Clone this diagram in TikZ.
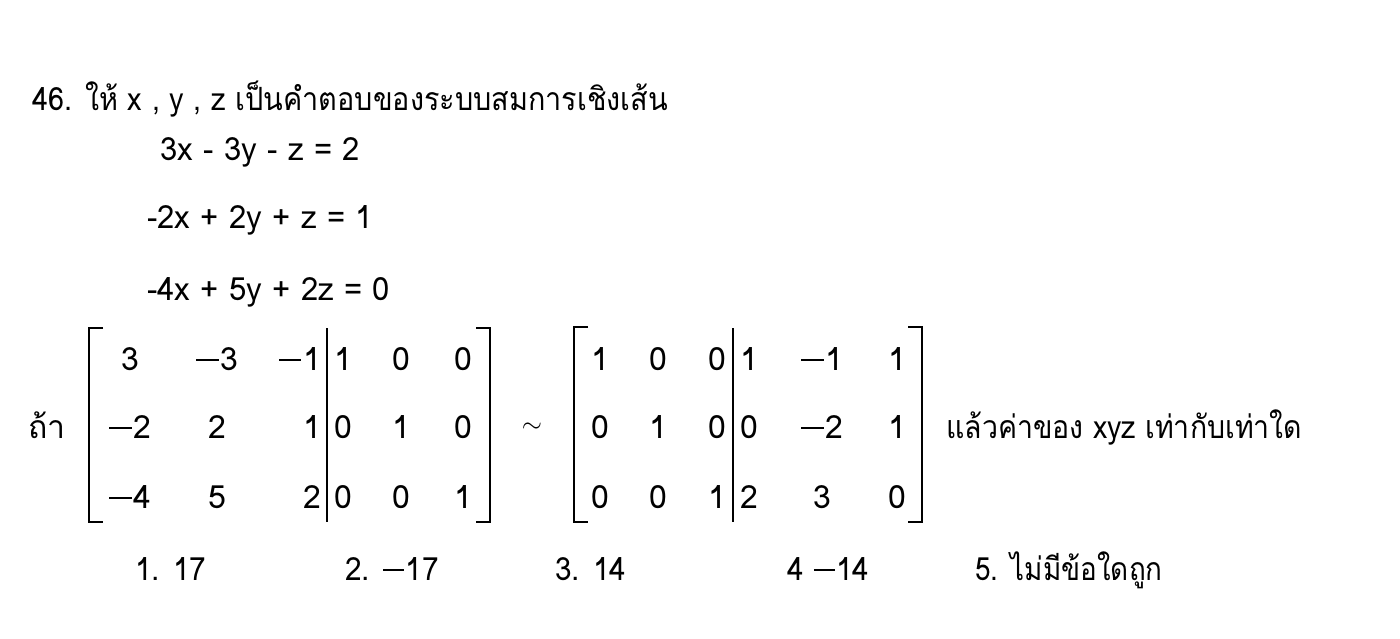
\documentclass[tikz,border=0pt]{standalone}
\usepackage{fontspec}
\setmainfont{Loma}[Script=Thai]
\newfontfamily\thaifont[Script=Thai]{Loma}
\newcommand\mn{\rule[0.27em]{0.7em}{0.06em}\hspace{0.05em}}
\newcommand\sq[2]{\scalebox{#1}[1]{#2}}
\begin{document}
\begin{tikzpicture}[x=1pt,y=-1pt,
  txt/.style={inner sep=0pt,anchor=base west,font=\fontsize{32}{38}\selectfont},
  ent/.style={inner sep=0pt,anchor=base,font=\fontsize{32}{38}\selectfont},
  entr/.style={ent,anchor=base east},
  entl/.style={ent,anchor=base west},
  brk/.style={line width=2.2pt},
  sep/.style={line width=1.5pt}]
\useasboundingbox[fill=white] (0,0) rectangle (1400,638);
% title
\node[txt] (title) at (32,110) {\sq{0.9}{46. ให้ x , y , z เป็นคำตอบของระบบสมการเชิงเส้น}};
\node[txt] (eq1) at (160,160) {\sq{0.97}{3x - 3y - z = 2}};
\node[txt] (eq2) at (147,228) {\sq{0.97}{-2x + 2y + z = 1}};
\node[txt] (eq3) at (147,300) {\sq{0.97}{-4x + 5y + 2z = 0}};
% if
\node[txt] (if) at (28,438) {ถ้า};
% matrix 1
\draw[brk] (103,328) -- (89,328) -- (89,522) -- (103,522);
\draw[brk] (476,328) -- (490,328) -- (490,522) -- (476,522);
\draw[sep] (327,328) -- (327,522);
\node[ent] (a11) at (130,370) {3};
\node[ent] (a12) at (217,370) {\mn3};
\node[entr] (a13) at (321,370) {\mn1};
\node[entl] (a14) at (334,370) {1};
\node[ent] (a15) at (401,370) {0};
\node[ent] (a16) at (463,370) {0};
\node[ent] (a21) at (130,438) {\mn2};
\node[ent] (a22) at (217,438) {2};
\node[entr] (a23) at (321,438) {1};
\node[entl] (a24) at (334,438) {0};
\node[ent] (a25) at (401,438) {1};
\node[ent] (a26) at (463,438) {0};
\node[ent] (a31) at (130,508) {\mn4};
\node[ent] (a32) at (217,508) {5};
\node[entr] (a33) at (321,508) {2};
\node[entl] (a34) at (334,508) {0};
\node[ent] (a35) at (401,508) {0};
\node[ent] (a36) at (463,508) {1};
% tilde
\node[inner sep=0pt] (sim) at (532,428) {\scalebox{2.6}{$\sim$}};
% matrix 2
\draw[brk] (588,327) -- (574,327) -- (574,522) -- (588,522);
\draw[brk] (908,327) -- (922,327) -- (922,522) -- (908,522);
\draw[sep] (733,328) -- (733,522);
\node[ent] (b11) at (600,370) {1};
\node[ent] (b12) at (658,370) {0};
\node[entr] (b13) at (726,370) {0};
\node[entl] (b14) at (740,370) {1};
\node[ent] (b15) at (822,370) {\mn1};
\node[ent] (b16) at (897,370) {1};
\node[ent] (b21) at (600,438) {0};
\node[ent] (b22) at (658,438) {1};
\node[entr] (b23) at (726,438) {0};
\node[entl] (b24) at (740,438) {0};
\node[ent] (b25) at (822,438) {\mn2};
\node[ent] (b26) at (897,438) {1};
\node[ent] (b31) at (600,508) {0};
\node[ent] (b32) at (658,508) {0};
\node[entr] (b33) at (726,508) {1};
\node[entl] (b34) at (740,508) {2};
\node[ent] (b35) at (822,508) {3};
\node[ent] (b36) at (897,508) {0};
% question
\node[txt] (q) at (946,438) {\sq{0.89}{แล้วค่าของ xyz เท่ากับเท่าใด}};
% answers
\node[txt] (c1) at (135,580) {\sq{0.93}{1. 17}};
\node[txt] (c2) at (345,580) {\sq{0.93}{2. \mn17}};
\node[txt] (c3) at (555,580) {\sq{0.93}{3. 14}};
\node[txt] (c4) at (787,580) {\sq{0.93}{4 \mn14}};
\node[txt] (c5) at (975,580) {\sq{0.87}{5. ไม่มีข้อใดถูก}};
\end{tikzpicture}
\end{document}
